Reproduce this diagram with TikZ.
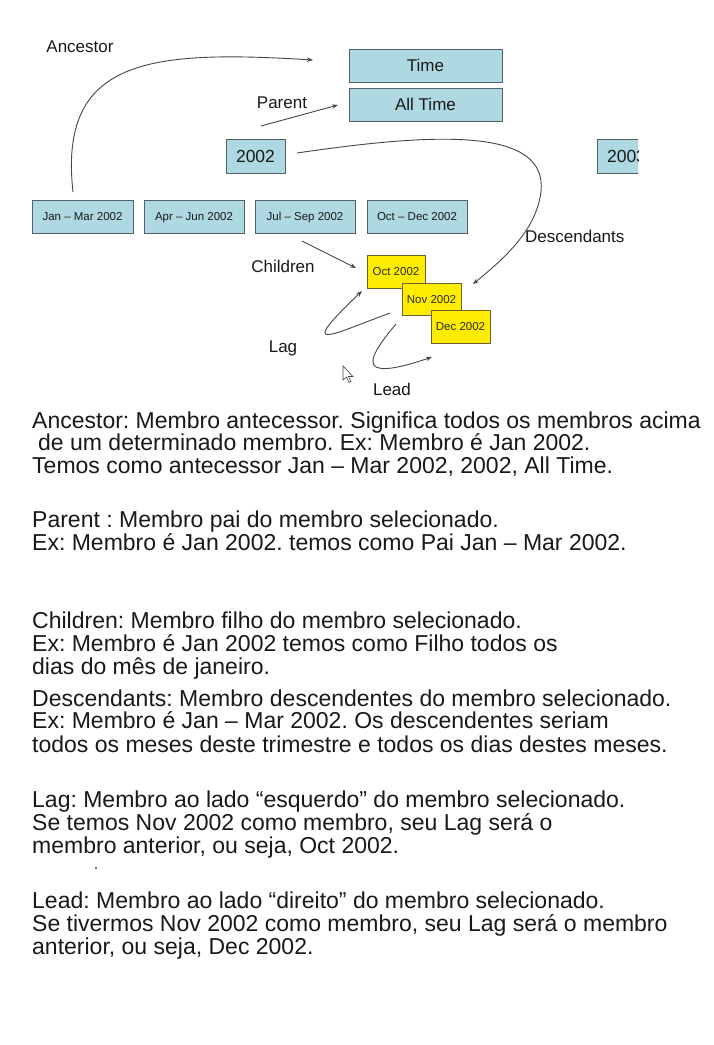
\documentclass[tikz,border=0pt]{standalone}
\usepackage{fontspec}
\setmainfont{Liberation Sans}
\usetikzlibrary{arrows.meta}
\definecolor{boxblue}{RGB}{174,216,226}
\definecolor{boxline}{RGB}{84,96,102}
\definecolor{memyellow}{RGB}{255,236,0}
\definecolor{yline}{RGB}{110,100,40}
\definecolor{inkgray}{RGB}{70,70,70}
\definecolor{txt}{RGB}{25,25,25}
\frenchspacing
\begin{document}
\begin{tikzpicture}[x=1pt,y=-1pt,
    lvl/.style={draw=boxline,fill=boxblue,line width=0.9pt,inner sep=0pt,text=txt,text depth=0pt},
    bigbox/.style={lvl,minimum width=153pt,minimum height=33pt,font=\fontsize{17}{19}\selectfont,text height=12.2pt},
    yrbox/.style={lvl,minimum width=59pt,minimum height=34pt,font=\fontsize{17.5}{19}\selectfont,text height=12.5pt},
    qbox/.style={lvl,minimum width=100pt,minimum height=33pt,font=\fontsize{11.5}{13}\selectfont,text height=8.2pt},
    mbox/.style={draw=yline,fill=memyellow,line width=0.9pt,inner sep=0pt,minimum width=59pt,minimum height=33pt,
        text=txt!80!yellow!60!black,font=\fontsize{11.5}{13}\selectfont,text height=8.2pt,text depth=0pt},
    lbl/.style={text=txt,font=\fontsize{17}{19}\selectfont,inner sep=0pt},
    ln/.style={anchor=base west,inner sep=0pt,text=txt,font=\fontsize{23}{23}\selectfont},
    link/.style={draw=inkgray,line width=0.9pt,-{Stealth[length=6pt,width=4.5pt]}}]
    \useasboundingbox[fill=white] (0,0) rectangle (713,1045);
    % hierarquia
    \node[bigbox] (time) at (425.5,65.5) {Time};
    \node[bigbox] (alltime) at (425.5,104.5) {All Time};
    \node[yrbox] (y2002) at (255.5,156) {2002};
    \begin{scope}
        \clip (560,130) rectangle (638,180);
        \node[yrbox] (y2003) at (626.5,156.5) {2003};
    \end{scope}
    \node[qbox,minimum width=101pt] (q1) at (82.5,216.5) {Jan -- Mar 2002};
    \node[qbox] (q2) at (194,216.5) {Apr -- Jun 2002};
    \node[qbox] (q3) at (305,216.5) {Jul -- Sep 2002};
    \node[qbox] (q4) at (417,216.5) {Oct -- Dec 2002};
    \node[mbox,minimum width=58pt] (oct) at (396,271.5) {Oct 2002};
    \node[mbox,minimum height=32pt] (nov) at (431.5,299) {Nov 2002};
    \node[mbox] (dec) at (460.5,326.5) {Dec 2002};
    % rotulos
    \node[lbl] (ancestor) at (80,47) {Ancestor};
    \node[lbl] (parent) at (282,103) {Parent};
    \node[lbl] (children) at (283,266) {Children};
    \node[lbl,anchor=west] (descendants) at (525,236) {Descendants};
    \node[lbl] (lag) at (283,348) {Lag};
    \node[lbl] (lead) at (392,389) {Lead};
    % pontas livres
    \coordinate (ancA) at (73,192);
    \coordinate (ancB) at (313,60);
    \coordinate (parA) at (261,126);
    \coordinate (parB) at (338,105);
    \coordinate (desA) at (297,153);
    \coordinate (desB) at (473,284);
    \coordinate (chiA) at (302,241);
    \coordinate (chiB) at (356,268);
    \coordinate (lagA) at (390,313);
    \coordinate (lagB) at (362,291);
    \coordinate (leaA) at (396,324);
    \coordinate (leaB) at (432,357);
    % setas
    \draw[link] (ancA) .. controls (58,58) and (150,50) .. (ancB);
    \draw[link] (parA) -- (parB);
    \draw[link] (desA) .. controls (440,132) and (548,128) .. (541,192)
        .. controls (536,230) and (505,258) .. (desB);
    \draw[link] (chiA) -- (chiB);
    \draw[link] (lagA) .. controls (330,335) and (295,355) .. (lagB);
    \draw[link] (leaA) .. controls (370,355) and (350,385) .. (leaB);
    % cursor
    \draw[fill=white,draw=inkgray,line width=0.6pt] (343,366) -- (343,380) -- (346.5,377) -- (349,382.5)
        -- (351,381.5) -- (348.5,376.5) -- (353,376.5) -- cycle;
    % texto
    \node[ln] (t1) at (32,428.5) {Ancestor: Membro antecessor. Significa todos os membros acima};
    \node[ln] (t2) at (38,450.5) {de um determinado membro. Ex: Membro é Jan 2002.};
    \node[ln] (t3) at (32,473.5) {Temos como antecessor Jan -- Mar 2002, 2002, All Time.};
    \node[ln] (t4) at (32,527.5) {Parent : Membro pai do membro selecionado.};
    \node[ln] (t5) at (32,550.5) {Ex: Membro é Jan 2002. temos como Pai Jan -- Mar 2002.};
    \node[ln] (t6) at (32,628.5) {Children: Membro filho do membro selecionado.};
    \node[ln] (t7) at (32,651.5) {Ex: Membro é Jan 2002 temos como Filho todos os};
    \node[ln] (t8) at (32,674.5) {dias do mês de janeiro.};
    \node[ln] (t9) at (32,706.5) {Descendants: Membro descendentes do membro selecionado.};
    \node[ln] (t10) at (32,728.5) {Ex: Membro é Jan -- Mar 2002. Os descendentes seriam};
    \node[ln] (t11) at (32,752.5) {todos os meses deste trimestre e todos os dias destes meses.};
    \node[ln] (t12) at (32,807.5) {Lag: Membro ao lado “esquerdo” do membro selecionado.};
    \node[ln] (t13) at (32,830.5) {Se temos Nov 2002 como membro, seu Lag será o};
    \node[ln] (t14) at (32,853.5) {membro anterior, ou seja, Oct 2002.};
    \fill[txt] (96,868) circle (1pt);
    \node[ln] (t15) at (32,908.5) {Lead: Membro ao lado “direito” do membro selecionado.};
    \node[ln] (t16) at (32,931.5) {Se tivermos Nov 2002 como membro, seu Lag será o membro};
    \node[ln] (t17) at (32,954.5) {anterior, ou seja, Dec 2002.};
\end{tikzpicture}
\end{document}
